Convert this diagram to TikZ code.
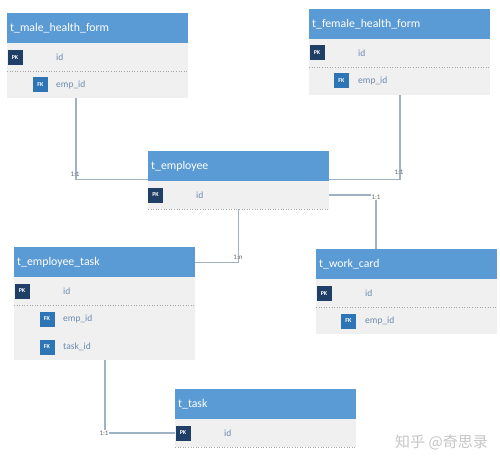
\documentclass[tikz,border=0pt]{standalone}
\usepackage{fontspec}
\setmainfont{Carlito}
\newfontfamily\cjk{Noto Sans CJK SC}
\usetikzlibrary{calc}
\definecolor{hblue}{HTML}{5B9BD5}
\definecolor{bodyg}{HTML}{F0F0F0}
\definecolor{pkc}{HTML}{1F3F66}
\definecolor{fkc}{HTML}{2E75B6}
\definecolor{fldc}{HTML}{6A8BAE}
\definecolor{relc}{HTML}{9FB2C4}
\definecolor{labc}{HTML}{666666}
\tikzset{
  hdr/.style={fill=hblue, text=white, anchor=north west, minimum width=181pt, text width=175pt,
    minimum height=30pt, inner xsep=3pt, inner ysep=0pt, align=left, font=\fontsize{11.8}{13}\selectfont},
  body/.style={fill=bodyg, anchor=north west, minimum width=181pt, inner sep=0pt},
  pk/.style={fill=pkc, text=white, minimum width=15pt, minimum height=15pt, inner sep=0pt,
    font=\fontsize{6}{7}\selectfont\bfseries},
  fk/.style={pk, fill=fkc},
  fld/.style={anchor=west, text=fldc, inner sep=0pt, font=\fontsize{9.5}{11}\selectfont},
  dotl/.style={draw=gray!70, dotted, line width=0.6pt},
  rel/.style={draw=relc, line width=1.1pt},
  lab/.style={text=labc, inner sep=0pt, font=\fontsize{7}{8}\selectfont},
}
\begin{document}
\begin{tikzpicture}[x=1pt,y=-1pt]
\useasboundingbox[fill=white] (0,0) rectangle (500,465);
% t_male_health_form
\node[body, minimum height=55pt] (mb) at (7,43) {};
\node[hdr] (mh) at (7,13) {t\_male\_health\_form};
\draw[dotl] (7,71) -- (188,71);
\node[pk] (mpk) at (15,57.5) {PK};
\node[fld] (mid) at (56,57.5) {id};
\node[fk] (mfk) at (40.5,84.5) {FK};
\node[fld] (memp) at (56,84.5) {emp\_id};
% t_female_health_form
\node[body, minimum height=56pt] (fb) at (309,39) {};
\node[hdr] (fh) at (309,9) {t\_female\_health\_form};
\draw[dotl] (309,67) -- (490,67);
\node[pk] (fpk) at (317,53) {PK};
\node[fld] (fid) at (358,53) {id};
\node[fk] (ffk) at (341.5,81) {FK};
\node[fld] (femp) at (358,81) {emp\_id};
% t_employee
\node[body, minimum height=28pt] (eb) at (148,181) {};
\node[hdr] (eh) at (148,151) {t\_employee};
\draw[dotl] (148,209) -- (329,209);
\node[pk] (epk) at (155.5,195) {PK};
\node[fld] (eid) at (196,195) {id};
% t_employee_task
\node[body, minimum height=83pt] (tb) at (14,277) {};
\node[hdr] (th) at (14,247) {t\_employee\_task};
\draw[dotl] (14,305) -- (195,305);
\node[pk] (tpk) at (22,291) {PK};
\node[fld] (tid) at (63,291) {id};
\node[fk] (tfk1) at (47,319) {FK};
\node[fld] (temp) at (63,319) {emp\_id};
\node[fk] (tfk2) at (47,347) {FK};
\node[fld] (ttask) at (63,347) {task\_id};
% t_work_card
\node[body, minimum height=55pt] (wb) at (316,279) {};
\node[hdr] (wh) at (316,249) {t\_work\_card};
\draw[dotl] (316,307) -- (497,307);
\node[pk] (wpk) at (324,293.5) {PK};
\node[fld] (wid) at (365,293.5) {id};
\node[fk] (wfk) at (348.5,321) {FK};
\node[fld] (wemp) at (365,321) {emp\_id};
% t_task
\node[body, minimum height=28pt] (kb) at (175,419) {};
\node[hdr] (kh) at (175,389) {t\_task};
\draw[dotl] (175,447) -- (356,447);
\node[pk] (kpk) at (183,433) {PK};
\node[fld] (kid) at (224,433) {id};
% relations
\draw[rel] ([xshift=69pt]mb.south west) |- ([yshift=1.5pt]eh.south west);
\node[lab] at (75,174) {1:1};
\draw[rel] ([xshift=91pt]fb.south west) |- ([yshift=1.5pt]eh.south east);
\node[lab] at (399,172) {1:1};
\draw[rel] ([yshift=-14pt]eb.north east) -| ([xshift=60pt]wh.north west);
\node[lab, fill=white, inner sep=0.5pt] at (376,197) {1:1};
\draw[rel] (eb.south) |- (th.east);
\node[lab] at (238,257) {1:n};
\draw[rel] ([xshift=91pt]tb.south west) |- (kpk.west);
\node[lab, fill=white, inner sep=0.5pt] at (104,433) {1:1};
% watermark
\node[text=gray!45, inner sep=0pt, font=\cjk\fontsize{15}{17}\selectfont] (wm) at (441.5,442) {知乎 @奇思录};
\end{tikzpicture}
\end{document}
